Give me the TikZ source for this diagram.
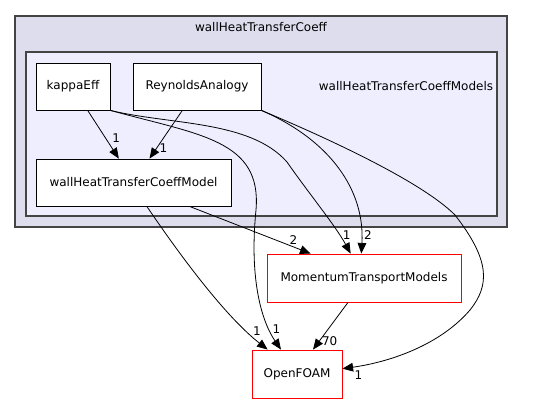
\documentclass[tikz,border=0pt]{standalone}
\usepackage{fontspec}
\setmainfont{DejaVu Sans}
\usetikzlibrary{arrows.meta,positioning}
\definecolor{outerfill}{HTML}{DDDDEE}
\definecolor{innerfill}{HTML}{EEEEFF}
\definecolor{clusterline}{HTML}{444444}
\begin{document}
\begin{tikzpicture}[%
    x=0.75pt,
    y=-0.75pt,
    font=\fontsize{9}{11}\selectfont,
    cluster/.style={
      draw=clusterline,
      line width=0.9pt
    },
    dirbox/.style={
      rectangle,
      draw=black,
      fill=white,
      line width=0.6pt,
      inner sep=0pt,
      minimum height=35.25pt
    },
    extbox/.style={
      rectangle,
      draw=red,
      fill=white,
      line width=0.6pt,
      inner sep=0pt,
      minimum height=36pt
    },
    dep/.style={
      draw=black,
      line width=0.6pt,
      -{Triangle[length=8pt,width=6.5pt]}
    },
    count/.style={
      inner sep=0pt
    },
  ]
    \useasboundingbox (0,0) rectangle (551,404);
    % clusters
    \draw[cluster, fill=outerfill] (15,16) rectangle (507,227);
    \node (outerlabel) at (261,27) {wallHeatTransferCoeff};
    \draw[cluster, fill=innerfill] (26,52) rectangle (497,216);
    \node (innerlabel) at (406,86) {wallHeatTransferCoeffModels};
    % directories
    \node[dirbox, minimum width=55.5pt] (kappa) at (73,86.5) {kappaEff};
    \node[dirbox, minimum width=96pt] (reynolds) at (197,86.5) {ReynoldsAnalogy};
    \node[dirbox, minimum width=146.25pt] (model) at (133.5,182.5) {wallHeatTransferCoeffModel};
    \node[extbox, minimum width=145.5pt] (momentum) at (364,278) {MomentumTransportModels};
    \node[extbox, minimum width=67.5pt] (openfoam) at (297,374) {OpenFOAM};
    % dependencies
    \draw[dep] ([xshift=11pt]kappa.south) -- ([xshift=-11pt]model.north) node[count, xshift=-2pt, yshift=15.5pt] {1};
    \draw[dep] ([xshift=-11pt]reynolds.south) -- ([xshift=12pt]model.north) node[count, xshift=10.5pt, yshift=7.5pt] {1};
    \draw[dep] (kappa.south east) .. controls (200,135) and (262,140) .. (256,210)
      .. controls (249,280) and (262,322) .. ([xshift=-12pt]openfoam.north) node[count, xshift=-3.5pt, yshift=15pt] {1};
    \draw[dep] (kappa.south east) .. controls (170,125) and (250,120) .. (287,162)
      .. controls (310,195) and (335,225) .. ([xshift=-10pt]momentum.north) node[count, xshift=-3pt, yshift=14pt] {1};
    \draw[dep] (reynolds.south east) .. controls (330,140) and (365,190) .. ([xshift=-2pt]momentum.north) node[count, xshift=5pt, yshift=14pt] {2};
    \draw[dep] (reynolds.south east) .. controls (320,135) and (420,180) .. (455,215)
      .. controls (490,260) and (490,285) .. (470,310)
      .. controls (440,345) and (390,362) .. ([yshift=4pt]openfoam.east) node[count, xshift=12pt, yshift=-4.5pt] {1};
    \draw[dep] ([xshift=42pt]model.south) -- ([xshift=-40pt]momentum.north) node[count, xshift=-13pt, yshift=10.5pt] {2};
    \draw[dep] ([xshift=10pt]model.south) .. controls (190,270) and (230,320) .. ([xshift=-22pt]openfoam.north) node[count, xshift=-8pt, yshift=14pt] {1};
    \draw[dep] ([xshift=-12pt]momentum.south) -- ([xshift=12pt]openfoam.north) node[count, xshift=12.5pt, yshift=6.5pt] {70};
  \end{tikzpicture}
\end{document}
